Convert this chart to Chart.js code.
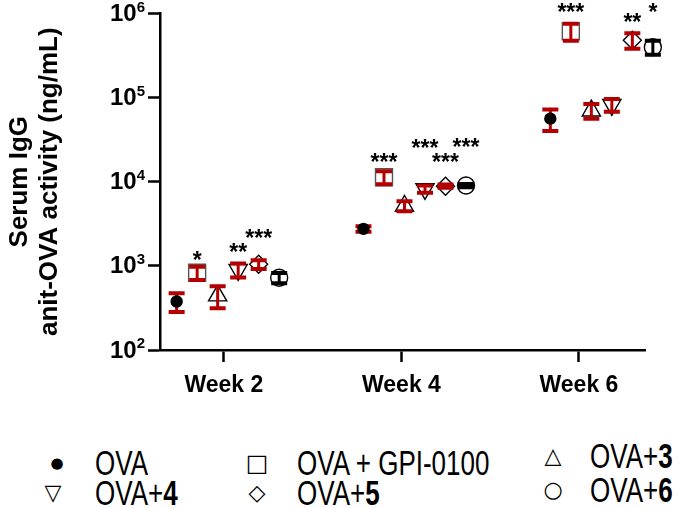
<!DOCTYPE html>
<html>
<head>
<meta charset="utf-8">
<script src="https://cdn.jsdelivr.net/npm/chart.js@4.4.0/dist/chart.umd.min.js"></script>
<style>
  html, body { margin: 0; padding: 0; background: #fff; }
  #wrap { position: relative; width: 689px; height: 508px; overflow: hidden; }
  #chart { position: absolute; left: 0; top: 0; }
  .lg { position: absolute; font-family: "Liberation Sans", Arial, sans-serif; font-size: 26px; line-height: 1;
        color: #000; white-space: nowrap; transform: translateY(-50%) scaleY(1.35); }
  .sym { position: absolute; font-family: "DejaVu Sans", sans-serif; line-height: 1; color: #000;
         transform: translate(-50%, -50%); }
</style>
</head>
<body>
<div id="wrap">
  <canvas id="chart" width="689" height="430"></canvas>
  <div id="legend"></div>
</div>
<script>
    'use strict'

    // --- data ---
    var weeks = [2, 4, 6];
    var groups = ['OVA', 'OVA + GPI-0100', 'OVA+3', 'OVA+4', 'OVA+5', 'OVA+6'];

    var ovaMean  = [377, 2750, 56100];
    var gpiMean  = [828, 11300, 614000];
    var ova3Mean = [443, 5140, 69800];
    var ova4Mean = [898, 8200, 82000];
    var ova5Mean = [1042, 8850, 480000];
    var ova6Mean = [722, 9000, 397000];

    var ovaSd  = [95, 200, 16000];
    var gpiSd  = [150, 2000, 140000];
    var ova3Sd = [130, 700, 14000];
    var ova4Sd = [170, 800, 14000];
    var ova5Sd = [125, 400, 100000];
    var ova6Sd = [100, 400, 75000];

    var ovaSig  = ['', '', ''];
    var gpiSig  = ['*', '***', '***'];
    var ova3Sig = ['', '', ''];
    var ova4Sig = ['**', '***', ''];
    var ova5Sig = ['***', '***', '**'];
    var ova6Sig = ['', '***', '*'];

    var yTickPowers = [2, 3, 4, 5, 6];

    var means = [ovaMean, gpiMean, ova3Mean, ova4Mean, ova5Mean, ova6Mean];
    var sds = [ovaSd, gpiSd, ova3Sd, ova4Sd, ova5Sd, ova6Sd];
    var sigs = [ovaSig, gpiSig, ova3Sig, ova4Sig, ova5Sig, ova6Sig];

    // --- styling ---
    var FONT = '"Liberation Sans", Arial, sans-serif';
    var RED = '#b40000';
    var dodge = 0.231;          // spacing between groups inside one week
    var spread = 1.0525, drift = -0.06;   // clusters sit a bit off the ticks, as in the original

    var styles = [
        { pointStyle: 'circle',   radius: 5.5,  rotation: 0,   fill: '#000', line: '#000', bar: RED, under: true },
        { pointStyle: 'rect',     radius: 12,   rotation: 0,   fill: '#fff', line: '#555', bar: RED },
        { pointStyle: 'triangle', radius: 10.5, rotation: 0,   fill: '#fff', line: '#000', bar: RED },
        { pointStyle: 'triangle', radius: 10.5, rotation: 180, fill: '#fff', line: '#000', bar: RED },
        { pointStyle: 'rectRot',  radius: 9,    rotation: 0,   fill: '#fff', line: '#000', bar: RED },
        { pointStyle: 'circle',   radius: 8.5,  rotation: 0,   fill: '#fff', line: '#000', bar: '#000' }
    ];
    // how far (px) the stars sit above the mean
    var starRaise = [
        [0, 0, 0], [16, 19, 23], [0, 0, 0], [21, 44, 0], [30, 28, 22], [0, 42, 39]
    ];

    function slotX(w, i) {
        return w * spread + drift + (i - 2.5) * dodge;
    }

    var datasets = groups.map(function (g, i) {
        var s = styles[i];
        return {
            label: g,
            data: weeks.map(function (w, j) { return { x: slotX(w, i), y: means[i][j] }; }),
            pointStyle: s.pointStyle,
            pointRadius: s.radius,
            pointRotation: s.rotation,
            pointBackgroundColor: s.fill,
            pointBorderColor: s.line,
            pointBorderWidth: 1.4,
            showLine: false,
            clip: false
        };
    });

    function drawBars(chart, under) {
        var ctx = chart.ctx, xs = chart.scales.x, ys = chart.scales.y;
        ctx.save();
        groups.forEach(function (g, i) {
            if (!!styles[i].under !== under) return;
            weeks.forEach(function (w, j) {
                var x = xs.getPixelForValue(slotX(w, i));
                var top = ys.getPixelForValue(means[i][j] + sds[i][j]);
                var bot = ys.getPixelForValue(means[i][j] - sds[i][j]);
                var half = 8;
                ctx.strokeStyle = styles[i].bar;
                ctx.lineWidth = 3;
                ctx.beginPath();
                ctx.moveTo(x, top); ctx.lineTo(x, bot);
                ctx.stroke();
                ctx.lineWidth = 4;
                ctx.beginPath();
                ctx.moveTo(x - half, top); ctx.lineTo(x + half, top);
                ctx.moveTo(x - half, bot); ctx.lineTo(x + half, bot);
                ctx.stroke();
            });
        });
        ctx.restore();
    }

    var errorBars = {
        id: 'errorBars',
        beforeDatasetsDraw: function (chart) { drawBars(chart, true); },
        afterDatasetsDraw: function (chart) {
            drawBars(chart, false);
            var ctx = chart.ctx, xs = chart.scales.x, ys = chart.scales.y;
            ctx.save();
            ctx.fillStyle = '#000';
            ctx.font = 'bold 23px ' + FONT;
            ctx.textAlign = 'center';
            ctx.textBaseline = 'middle';
            groups.forEach(function (g, i) {
                weeks.forEach(function (w, j) {
                    if (!sigs[i][j]) return;
                    var x = xs.getPixelForValue(slotX(w, i));
                    var y = ys.getPixelForValue(means[i][j]) - starRaise[i][j];
                    ctx.fillText(sigs[i][j], x, y + 5);
                });
            });
            ctx.restore();
        }
    };

    // y tick labels as 10 with a raised exponent
    var powerLabels = {
        id: 'powerLabels',
        afterDraw: function (chart) {
            var ctx = chart.ctx, ys = chart.scales.y;
            var right = chart.chartArea.left - 12 - 3;
            ctx.save();
            ctx.fillStyle = '#000';
            ctx.textBaseline = 'middle';
            ys.ticks.forEach(function (t) {
                var y = ys.getPixelForValue(t.value);
                var p = String(Math.round(Math.log10(t.value)));
                ctx.font = 'bold 15px ' + FONT;
                var pw = ctx.measureText(p).width;
                ctx.textAlign = 'left';
                ctx.fillText(p, right - pw, y - 6);
                ctx.font = 'bold 24px ' + FONT;
                ctx.textAlign = 'right';
                ctx.fillText('10', right - pw, y + 1);
            });
            ctx.restore();
        }
    };

    var ctx = document.getElementById('chart').getContext('2d');
    var chart = new Chart(ctx, {
        type: 'scatter',
        data: { datasets: datasets },
        options: {
            responsive: false,
            animation: false,
            layout: { padding: { top: 11, right: 44, left: 0, bottom: 0 } },
            plugins: { legend: { display: false }, tooltip: { enabled: false } },
            scales: {
                x: {
                    type: 'linear',
                    min: 1.28,
                    max: 6.744,
                    afterBuildTicks: function (s) { s.ticks = weeks.map(function (w) { return { value: w }; }); },
                    afterFit: function (s) { s.height = 80; },
                    ticks: {
                        color: '#000',
                        font: { family: FONT, size: 23, weight: 'bold' },
                        padding: 10,
                        maxRotation: 0,
                        callback: function (v) { return 'Week ' + v; }
                    },
                    grid: { drawOnChartArea: false, drawTicks: true, tickLength: 12, tickWidth: 2.5, tickColor: '#000' },
                    border: { display: true, color: '#000', width: 2.5 }
                },
                y: {
                    type: 'logarithmic',
                    min: 100,
                    max: 1000000,
                    afterBuildTicks: function (s) { s.ticks = yTickPowers.map(function (p) { return { value: Math.pow(10, p) }; }); },
                    afterFit: function (s) { s.width = 160; },
                    ticks: { display: false },
                    grid: { drawOnChartArea: false, drawTicks: true, tickLength: 12, tickWidth: 2.5, tickColor: '#000' },
                    border: { display: true, color: '#000', width: 2.5 },
                    title: {
                        display: true,
                        text: ['Serum IgG', 'anit-OVA activity (ng/mL)'],
                        color: '#000',
                        font: { family: FONT, size: 26, weight: 'bold', lineHeight: 1.15 },
                        padding: { top: 5, bottom: 0 }
                    }
                }
            }
        },
        plugins: [errorBars, powerLabels]
    });

    // --- legend: 3 columns x 2 rows, numbers in bold ---
    var legendBold = ['', '', '3', '4', '5', '6'];
    var legendSym = ['\u25CF', '\u25A1', '\u25B3', '\u25BD', '\u25C7', '\u25CB'];
    var symSize = [15, 24, 22, 22, 22, 22];
    var legendPos = [   // [symbol x, text x, centre y]
        [57, 95, 463], [257, 297, 463], [553, 590, 456],
        [53, 95, 493], [257, 297, 493], [553, 590, 490]
    ];
    var legend = document.getElementById('legend');
    groups.forEach(function (g, i) {
        var p = legendPos[i];
        var sym = document.createElement('span');
        sym.className = 'sym';
        sym.style.left = p[0] + 'px';
        sym.style.top = p[2] + 'px';
        sym.style.fontSize = symSize[i] + 'px';
        sym.textContent = legendSym[i];
        legend.appendChild(sym);

        var txt = document.createElement('span');
        txt.className = 'lg';
        txt.style.left = p[1] + 'px';
        txt.style.top = p[2] + 'px';
        var plain = legendBold[i] ? g.slice(0, g.length - legendBold[i].length) : g;
        txt.appendChild(document.createTextNode(plain));
        if (legendBold[i]) {
            var b = document.createElement('b');
            b.textContent = legendBold[i];
            txt.appendChild(b);
        }
        legend.appendChild(txt);
    });
</script>
</body>
</html>
